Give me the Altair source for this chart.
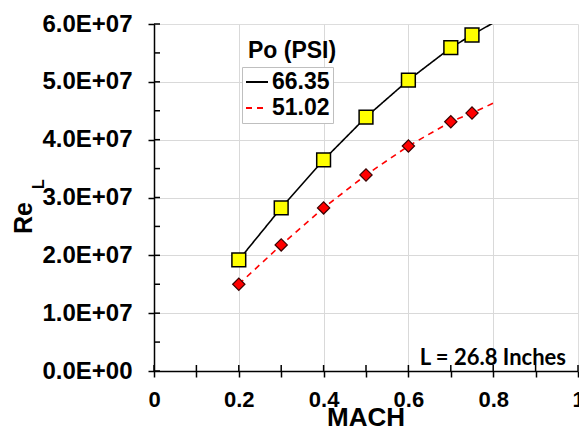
import altair as alt
import pandas as pd

# ---- data ----
mach = [0.2, 0.3, 0.4, 0.5, 0.6, 0.7, 0.75]
re_6635 = [1.92e7, 2.82e7, 3.65e7, 4.39e7, 5.03e7, 5.59e7, 5.81e7]
re_5102 = [1.50e7, 2.18e7, 2.82e7, 3.39e7, 3.89e7, 4.31e7, 4.46e7]

# trend lines (drawn through the points, extended to M = 0.8)
line_mach = [0.2, 0.3, 0.4, 0.5, 0.6, 0.7, 0.75, 0.8]
line_6635 = [1.92e7, 2.82e7, 3.65e7, 4.39e7, 5.03e7, 5.59e7, 5.81e7, 6.02e7]
line_5102 = [1.50e7, 2.18e7, 2.82e7, 3.39e7, 3.89e7, 4.31e7, 4.46e7, 4.63e7]

series = ["66.35", "51.02"]
x_ticks = [0.0, 0.1, 0.2, 0.3, 0.4, 0.5, 0.6, 0.7, 0.8, 0.9, 1.0]
y_ticks = [0, 5e6, 1e7, 1.5e7, 2e7, 2.5e7, 3e7, 3.5e7, 4e7, 4.5e7, 5e7, 5.5e7, 6e7]

pts_a = pd.DataFrame({"mach": mach, "re": re_6635})
pts_b = pd.DataFrame({"mach": mach, "re": re_5102})
lines = pd.DataFrame(
    {"mach": line_mach * 2, "re": line_6635 + line_5102,
     "series": [series[0]] * len(line_mach) + [series[1]] * len(line_mach)}
)

W, H = 424, 347
FONT = "Liberation Sans"

xscale = alt.Scale(domain=[0, 1], nice=False, zero=False)
yscale = alt.Scale(domain=[0, 6e7], nice=False)

x_axis = alt.Axis(
    values=x_ticks,
    title=None,
    labelExpr="round(datum.value*10)%2==0 ? (datum.value==0 ? '0' : (datum.value==1 ? '1' : format(datum.value,'.1f'))) : ''",
    labelFont=FONT, labelFontSize=22, labelFontWeight="bold", labelColor="black",
    labelPadding=12, labelFlush=False, labelOverlap=False,
    tickColor="black", tickSize=6, tickWidth=1.5,
    domainColor="black", domainWidth=1.5,
    gridColor="#d9d9d9", gridWidth=1,
    gridOpacity={"condition": {"test": "round(datum.value*10)%2==0 && datum.value>0 && datum.value<1", "value": 1}, "value": 0},
)
y_axis = alt.Axis(
    values=y_ticks,
    title=None,
    labelExpr="round(datum.value/5e6)%2==0 ? replace(format(datum.value,'.1e'),'e+','E+0') : ''",
    labelFont=FONT, labelFontSize=24, labelFontWeight="bold", labelColor="black",
    labelPadding=16, labelOverlap=False,
    tickColor="black", tickSize=6, tickWidth=1.5,
    domainColor="black", domainWidth=1.5,
    gridColor="#d9d9d9", gridWidth=1,
    gridOpacity={"condition": {"test": "round(datum.value/5e6)%2==0 && datum.value>0 && datum.value<6e7", "value": 1}, "value": 0},
)

legend = alt.Legend(
    title=None, orient="none", legendX=88, legendY=43,
    symbolType="stroke", symbolSize=484, symbolStrokeWidth=2,
    labelFont=FONT, labelFontSize=23, labelFontWeight="bold", labelColor="black",
    labelOffset=3, rowPadding=2, padding=3,
    strokeColor="#bfbfbf", fillColor="white",
)

line_layer = alt.Chart(lines).mark_line(strokeWidth=1.6, clip=True).encode(
    x=alt.X("mach:Q", scale=xscale, axis=x_axis),
    y=alt.Y("re:Q", scale=yscale, axis=y_axis),
    color=alt.Color("series:N", scale=alt.Scale(domain=series, range=["black", "#ff0000"]), legend=legend),
    strokeDash=alt.StrokeDash("series:N", scale=alt.Scale(domain=series, range=[[1, 0], [6, 5]]), legend=legend),
)

squares = alt.Chart(pts_a).mark_point(
    shape="square", filled=True, fill="#ffff00", stroke="black", strokeWidth=1.5, size=190, opacity=1
).encode(x=alt.X("mach:Q", scale=xscale), y=alt.Y("re:Q", scale=yscale))

diamonds = alt.Chart(pts_b).mark_point(
    shape="diamond", filled=True, fill="#ff0000", stroke="#3a0000", strokeWidth=1.2, size=150, opacity=1
).encode(x=alt.X("mach:Q", scale=xscale), y=alt.Y("re:Q", scale=yscale))

# inner halves of the crossing tick marks
xt = pd.DataFrame({"t": x_ticks})
yt = pd.DataFrame({"t": y_ticks})
xtick_in = alt.Chart(xt).mark_rule(color="black", strokeWidth=1.5).encode(
    x=alt.X("t:Q", scale=xscale), y=alt.value(H), y2=alt.value(H - 6)
)
ytick_in = alt.Chart(yt).mark_rule(color="black", strokeWidth=1.5).encode(
    y=alt.Y("t:Q", scale=yscale), x=alt.value(0), x2=alt.value(6)
)

legend_title = alt.Chart(pd.DataFrame({"t": ["Po (PSI)"]})).mark_text(
    font=FONT, fontSize=23, fontWeight="bold", color="black", align="left", baseline="middle"
).encode(text="t:N", x=alt.value(94), y=alt.value(27))

note = alt.Chart(pd.DataFrame({"t": ["L = 26.8 Inches"]})).mark_text(
    font="Lato", fontSize=22, fontWeight="bold", color="black", align="right", baseline="alphabetic"
).encode(text="t:N", x=alt.value(412), y=alt.value(341))

xtitle = alt.Chart(pd.DataFrame({"t": ["MACH"]})).mark_text(
    font=FONT, fontSize=26, fontWeight="bold", color="black", align="center", baseline="middle"
).encode(text="t:N", x=alt.value(W / 2), y=alt.value(394))

ytitle = alt.Chart(pd.DataFrame({"t": ["Re"]})).mark_text(
    font=FONT, fontSize=25, fontWeight="bold", color="black", align="center", baseline="middle", angle=270
).encode(text="t:N", x=alt.value(-130), y=alt.value(194))
ysub = alt.Chart(pd.DataFrame({"t": ["L"]})).mark_text(
    font=FONT, fontSize=16, fontWeight="bold", color="black", align="center", baseline="middle", angle=270
).encode(text="t:N", x=alt.value(-115), y=alt.value(160))

chart = alt.layer(
    line_layer, squares, diamonds, xtick_in, ytick_in, legend_title, note, xtitle, ytitle, ysub
).properties(
    width=W, height=H,
    autosize="none",
    padding={"left": 146, "top": 16, "right": 1, "bottom": 62},
).configure_view(
    stroke="#ff0000", strokeWidth=1.5
).configure(background="white")

chart.save("out.html", embed_options={"renderer": "svg", "actions": False})
